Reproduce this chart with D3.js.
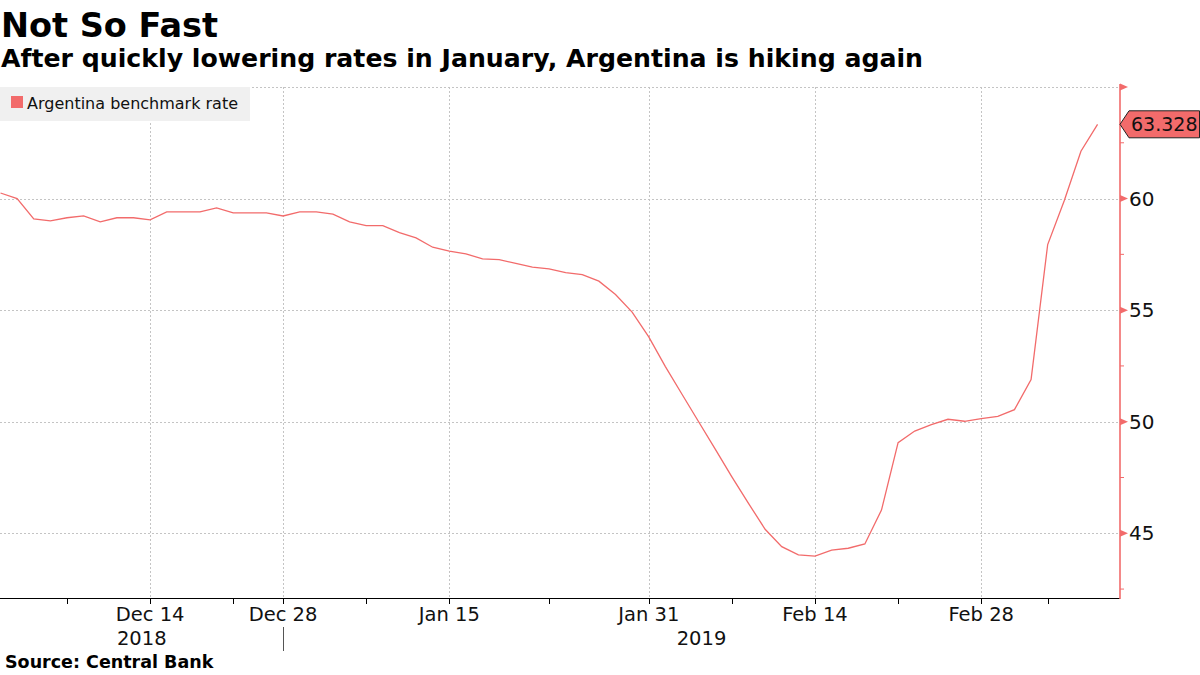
<!DOCTYPE html>
<html>
<head>
<meta charset="utf-8">
<script src="https://cdn.jsdelivr.net/npm/d3@7"></script>
<style>
  html, body { margin: 0; padding: 0; background: #fff; }
  svg { display: block; font-family: "DejaVu Sans", sans-serif; }
</style>
</head>
<body>
<svg id="chart" width="1200" height="675"></svg>
<script>
// ---- Data ----
const seriesName = "Argentina benchmark rate";
const values = [60.25, 60.0, 59.09, 59.0, 59.14, 59.22, 58.96, 59.14, 59.14, 59.05,
  59.4, 59.4, 59.4, 59.58, 59.36, 59.36, 59.36, 59.22, 59.4, 59.4,
  59.3, 58.96, 58.79, 58.79, 58.47, 58.24, 57.82, 57.64, 57.52, 57.3,
  57.26, 57.1, 56.93, 56.85, 56.68, 56.59, 56.3, 55.7, 54.91, 53.8,
  52.47, 51.23, 50.0, 48.77, 47.53, 46.34, 45.18, 44.4, 44.03, 43.98,
  44.25, 44.33, 44.52, 46.04, 49.06, 49.58, 49.87, 50.11, 50.02, 50.14,
  50.24, 50.54, 51.89, 57.94, 59.91, 62.12, 63.328];
const tickLabels = ["Dec 14", "Dec 28", "Jan 15", "Jan 31", "Feb 14", "Feb 28"];
const tickIndex = [9, 17, 27, 39, 49, 59];
const minorTickIndex = [4, 9, 14, 17, 22, 27, 33, 39, 44, 49, 54, 59, 63];
const yearLabels = ["2018", "2019"];
const yearBreakIndex = 17;
const yTicks = [45, 50, 55, 60, 65];
const yLabelTicks = [45, 50, 55, 60];
const yMinorTicks = [42.5, 47.5, 52.5, 57.5, 62.5];
const lastLabel = "63.328";

// ---- Layout ----
const svg = d3.select("#chart");
const plotLeft = 0, plotRight = 1120, plotTop = 87, plotBottom = 598;
const red = "#f26b6b";
const x = d3.scaleLinear().domain([-0.03, 67.35]).range([plotLeft, plotRight]);
const y = d3.scaleLinear().domain([42.1, 65]).range([plotBottom, plotTop]);

// Title
svg.append("text").attr("x", 1).attr("y", 37).attr("font-size", 33.5).attr("font-weight", "bold").attr("fill", "#000").text("Not So Fast");
svg.append("text").attr("x", 1).attr("y", 67).attr("font-size", 25.2).attr("font-weight", "bold").attr("fill", "#000")
  .text("After quickly lowering rates in January, Argentina is hiking again");

// Gridlines
const grid = svg.append("g").attr("stroke", "#c4c4c4").attr("stroke-width", 1).attr("stroke-dasharray", "2,2");
yTicks.forEach(v => grid.append("line").attr("x1", plotLeft).attr("x2", plotRight)
  .attr("y1", Math.round(y(v)) + 0.5).attr("y2", Math.round(y(v)) + 0.5));
tickIndex.forEach(i => grid.append("line").attr("x1", Math.round(x(i)) + 0.5).attr("x2", Math.round(x(i)) + 0.5)
  .attr("y1", plotTop).attr("y2", plotBottom));

// Legend
svg.append("rect").attr("x", 0).attr("y", 87).attr("width", 250).attr("height", 34).attr("fill", "#f0f0f0");
svg.append("rect").attr("x", 11).attr("y", 96).attr("width", 12).attr("height", 12).attr("fill", red);
svg.append("text").attr("x", 27).attr("y", 109).attr("font-size", 16).attr("fill", "#111").text(seriesName);

// Line
svg.append("defs").append("clipPath").attr("id", "clip").append("rect")
  .attr("x", plotLeft).attr("y", plotTop - 5).attr("width", plotRight - plotLeft).attr("height", plotBottom - plotTop + 5);
svg.append("path").datum(values)
  .attr("clip-path", "url(#clip)")
  .attr("fill", "none").attr("stroke", red).attr("stroke-width", 1.3)
  .attr("d", d3.line().x((d, i) => x(i)).y(d => y(d)));

// X axis
const xAxis = svg.append("g");
xAxis.append("line").attr("x1", plotLeft).attr("x2", plotRight).attr("y1", plotBottom + 0.5).attr("y2", plotBottom + 0.5)
  .attr("stroke", "#000").attr("stroke-width", 1);
minorTickIndex.forEach(i => xAxis.append("line").attr("x1", Math.round(x(i)) + 0.5).attr("x2", Math.round(x(i)) + 0.5)
  .attr("y1", plotBottom).attr("y2", plotBottom + 6).attr("stroke", "#000"));
tickIndex.forEach((i, k) => xAxis.append("text").attr("x", x(i)).attr("y", 621).attr("text-anchor", "middle")
  .attr("font-size", 19.5).attr("fill", "#111").text(tickLabels[k]));
// Year labels and separator
const xEnd = x.domain()[1];
const yearCenters = [(0 + yearBreakIndex) / 2, (yearBreakIndex + xEnd) / 2];
yearLabels.forEach((t, k) => xAxis.append("text").attr("x", x(yearCenters[k])).attr("y", 645).attr("text-anchor", "middle")
  .attr("font-size", 19.5).attr("fill", "#111").text(t));
xAxis.append("line").attr("x1", Math.round(x(yearBreakIndex)) + 0.5).attr("x2", Math.round(x(yearBreakIndex)) + 0.5)
  .attr("y1", 627).attr("y2", 651).attr("stroke", "#555").attr("stroke-width", 1);

// Right Y axis
const yAxis = svg.append("g");
yAxis.append("line").attr("x1", plotRight).attr("x2", plotRight).attr("y1", plotTop - 3).attr("y2", plotBottom + 1)
  .attr("stroke", red).attr("stroke-width", 1.6);
yTicks.forEach(v => {
  const yy = y(v);
  yAxis.append("path").attr("d", `M${plotRight},${yy - 3.5} L${plotRight + 8},${yy} L${plotRight},${yy + 3.5} Z`).attr("fill", red);
});
yMinorTicks.forEach(v => yAxis.append("line").attr("x1", plotRight).attr("x2", plotRight + 4)
  .attr("y1", y(v)).attr("y2", y(v)).attr("stroke", red).attr("stroke-width", 1));
yLabelTicks.forEach(v => yAxis.append("text").attr("x", plotRight + 9).attr("y", y(v)).attr("dy", "0.36em")
  .attr("font-size", 20).attr("fill", "#111").text(v));

// Last value label
const lastY = y(values[values.length - 1]);
svg.append("path")
  .attr("d", `M${plotRight},${lastY} L${plotRight + 9},${lastY - 13.5} L1199.5,${lastY - 13.5} L1199.5,${lastY + 13.5} L${plotRight + 9},${lastY + 13.5} Z`)
  .attr("fill", red).attr("stroke", "#222").attr("stroke-width", 1);
svg.append("text").attr("x", plotRight + 11).attr("y", lastY).attr("dy", "0.36em").attr("font-size", 19)
  .attr("fill", "#111").text(lastLabel);

// Source
svg.append("text").attr("x", 5).attr("y", 668).attr("font-size", 17.5).attr("font-weight", "bold").attr("fill", "#000")
  .text("Source: Central Bank");
</script>
</body>
</html>
